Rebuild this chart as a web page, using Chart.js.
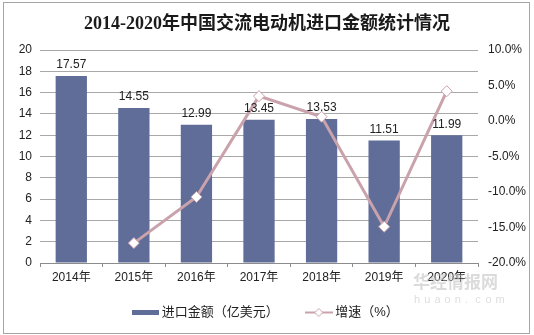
<!DOCTYPE html>
<html>
<head>
<meta charset="utf-8">
<script src="https://cdn.jsdelivr.net/npm/chart.js@4"></script>
<style>
  html, body { margin: 0; padding: 0; background: #fff; }
  #wrap { width: 534px; height: 335px; position: relative; }
</style>
</head>
<body>
<div id="wrap"><canvas id="c" width="534" height="335"></canvas></div>
<script>
const titleText = '2014-2020年中国交流电动机进口金额统计情况';
const categories = ['2014年', '2015年', '2016年', '2017年', '2018年', '2019年', '2020年'];
const importValues = [17.57, 14.55, 12.99, 13.45, 13.53, 11.51, 11.99];
const growthValues = [null, -17.2, -10.7, 3.5, 0.6, -14.9, 4.2];
const seriesNames = ['进口金额（亿美元）', '增速（%）'];
const leftTicks = [0, 2, 4, 6, 8, 10, 12, 14, 16, 18, 20];
const rightTicks = [-20, -15, -10, -5, 0, 5, 10];

const BAR_COLOR = '#5f6d98';
const LINE_COLOR = '#c9a2ab';
const FONT = "'Liberation Sans', 'Noto Sans CJK SC', sans-serif";

function barIcon() {
  const c = document.createElement('canvas');
  c.width = 27; c.height = 5;
  const x = c.getContext('2d');
  x.fillStyle = BAR_COLOR;
  x.fillRect(0, 0, 27, 5);
  return c;
}
function lineIcon() {
  const c = document.createElement('canvas');
  c.width = 28; c.height = 11;
  const x = c.getContext('2d');
  x.strokeStyle = LINE_COLOR; x.lineWidth = 2;
  x.beginPath(); x.moveTo(0, 5.5); x.lineTo(28, 5.5); x.stroke();
  x.fillStyle = '#fff'; x.lineWidth = 1;
  x.beginPath();
  x.moveTo(14, 1.5); x.lineTo(18, 5.5); x.lineTo(14, 9.5); x.lineTo(10, 5.5); x.closePath();
  x.fill(); x.stroke();
  return c;
}
const icons = [barIcon(), lineIcon()];

const framePlugin = {
  id: 'frame',
  beforeDraw(chart) {
    if (chart.scales.x) chart.scales.x._computeLabelArea = () => null;
    const ctx = chart.ctx;
    ctx.save();
    ctx.fillStyle = '#fff';
    ctx.fillRect(0, 0, chart.width, chart.height);
    ctx.strokeStyle = '#a6a6a6';
    ctx.lineWidth = 1;
    ctx.strokeRect(3.5, 2.5, 526, 331);
    ctx.restore();
  },
  afterDraw(chart) {
    const ctx = chart.ctx;
    ctx.save();
    ctx.fillStyle = 'rgba(190,190,190,0.55)';
    ctx.font = "bold 17px 'Noto Sans CJK SC', sans-serif";
    ctx.textAlign = 'left'; ctx.textBaseline = 'middle';
    ctx.fillText('华经情报网', 413, 282);
    ctx.font = "11px 'Liberation Sans', sans-serif";
    ctx.fillStyle = 'rgba(200,200,200,0.6)';
    const s = 'huaon.com';
    for (let i = 0; i < s.length; i++) ctx.fillText(s[i], 414 + i * 10.2, 300);
    ctx.restore();
  }
};

const labelPlugin = {
  id: 'barLabels',
  afterDatasetsDraw(chart) {
    const ctx = chart.ctx;
    const meta = chart.getDatasetMeta(0);
    ctx.save();
    ctx.font = '12px ' + FONT;
    ctx.fillStyle = '#222';
    ctx.textAlign = 'center';
    ctx.textBaseline = 'bottom';
    meta.data.forEach((bar, i) => {
      ctx.fillText(importValues[i].toFixed(2), bar.x, bar.y - 5);
    });
    ctx.restore();
  }
};

new Chart(document.getElementById('c'), {
  data: {
    labels: categories,
    datasets: [
      {
        type: 'bar',
        label: seriesNames[0],
        data: importValues,
        backgroundColor: BAR_COLOR,
        barPercentage: 0.5,
        categoryPercentage: 1,
        yAxisID: 'y',
        order: 1
      },
      {
        type: 'line',
        label: seriesNames[1],
        data: growthValues,
        borderColor: LINE_COLOR,
        borderWidth: 3,
        tension: 0,
        pointStyle: 'rectRot',
        pointRadius: 5.5,
        pointBorderWidth: 1,
        pointBackgroundColor: '#fff',
        pointBorderColor: LINE_COLOR,
        yAxisID: 'y1',
        order: 0
      }
    ]
  },
  options: {
    responsive: false,
    animation: false,
    devicePixelRatio: 1,
    layout: { padding: { left: 0, right: 0, top: 0, bottom: 6 } },
    plugins: {
      title: {
        display: true,
        text: titleText,
        color: '#1a1a1a',
        font: { family: "'Liberation Serif', 'DejaVu Serif', 'Noto Sans CJK SC', serif", size: 18, weight: 'bold' },
        padding: { top: 14, bottom: 14.4 }
      },
      legend: {
        display: true,
        position: 'bottom',
        labels: {
          usePointStyle: true,
          pointStyleWidth: 20,
          padding: 30,
          color: '#222',
          font: { family: FONT, size: 13 },
          generateLabels() {
            return seriesNames.map((n, i) => ({
              text: n,
              pointStyle: icons[i],
              fillStyle: 'transparent',
              strokeStyle: 'transparent',
              lineWidth: 0,
              datasetIndex: i,
              fontColor: '#222'
            }));
          }
        }
      },
      tooltip: { enabled: false }
    },
    scales: {
      x: {
        offset: true,
        grid: { display: true, offset: true, drawOnChartArea: false, tickLength: 4, color: '#8c8c8c' },
        border: { display: true, color: '#8c8c8c' },
        ticks: { color: '#222', font: { family: FONT, size: 12 }, padding: 3, maxRotation: 0 },
        afterFit(s) { s.height = 13; }
      },
      y: {
        position: 'left',
        min: 0, max: 20,
        afterBuildTicks(s) { s.ticks = leftTicks.map(v => ({ value: v })); },
        grid: { color: '#a8a8a8', drawTicks: false },
        border: { display: false },
        ticks: { color: '#222', font: { family: FONT, size: 12 }, padding: 8 },
        afterFit(s) { s.width = 40; }
      },
      y1: {
        position: 'right',
        min: -20, max: 10,
        afterBuildTicks(s) { s.ticks = rightTicks.map(v => ({ value: v })); },
        grid: { display: false, drawTicks: false },
        border: { display: false },
        ticks: {
          color: '#222', font: { family: FONT, size: 12 }, padding: 10,
          callback: v => v.toFixed(1) + '%'
        },
        afterFit(s) { s.width = 56; }
      }
    }
  },
  plugins: [framePlugin, labelPlugin]
});
</script>
</body>
</html>
